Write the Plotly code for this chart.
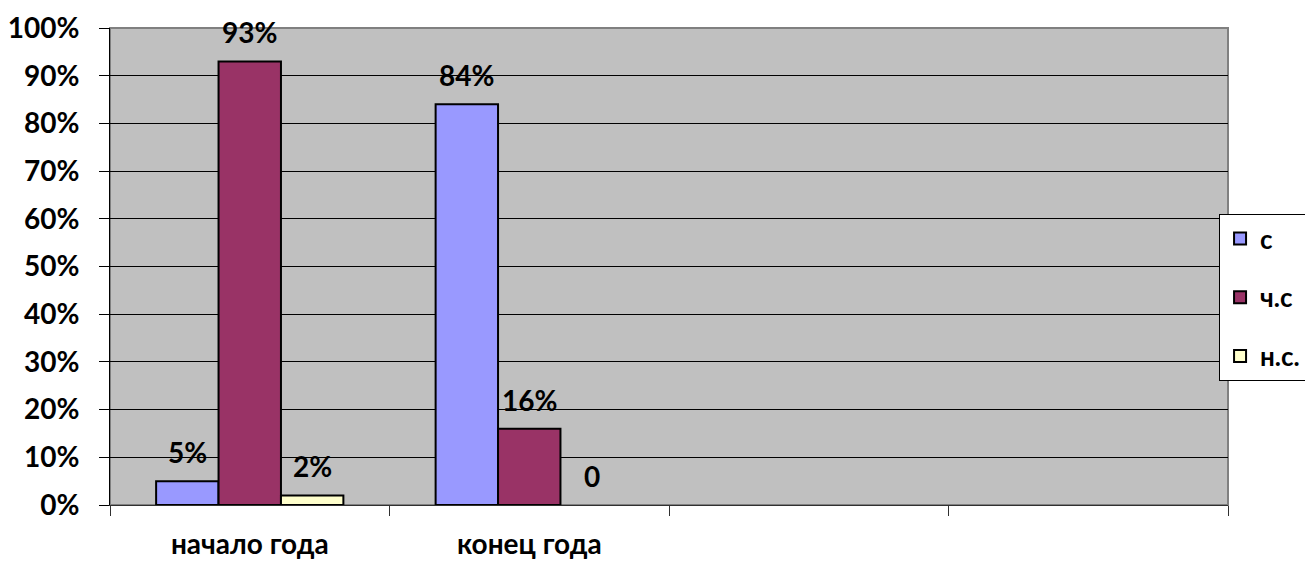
import plotly.graph_objects as go

categories = ["начало года", "конец года", "", ""]
cat_pos = [0, 1, 2, 3]
series_names = ["с", "ч.с", "н.с."]
values_s = [0.05, 0.84, None, None]
values_chs = [0.93, 0.16, None, None]
values_ns = [0.02, 0.0, None, None]
labels_s = ["5%", "84%", "", ""]
labels_chs = ["93%", "16%", "", ""]
labels_ns = ["2%", "0", "", ""]
colors = ["#9999FF", "#993366", "#FFFFCC"]

FONT = "Lato"
BW = 0.67 / 3

fig = go.Figure()
all_vals = [values_s, values_chs, values_ns]
all_labels = [labels_s, labels_chs, labels_ns]
for k, (name, vals, col) in enumerate(zip(series_names, all_vals, colors)):
    widths = [0 if (v is None or v == 0) else 2 for v in vals]
    fig.add_trace(go.Bar(
        x=cat_pos, y=vals, name=name, marker_color=col,
        marker_line=dict(color="black", width=widths),
        legendgroup=name,
    ))
    off = (k - 1) * BW
    for xi, v, t in zip(cat_pos, vals, all_labels[k]):
        if v is None or t == "":
            continue
        fig.add_annotation(x=xi + off, y=v, text=t, showarrow=False,
                           yanchor="middle", yshift=29,
                           font=dict(family=FONT, size=28, color="black", weight="bold"))

fig.update_layout(
    width=1305, height=553,
    margin=dict(l=102, r=85, t=20, b=56, autoexpand=False),
    paper_bgcolor="white", plot_bgcolor="#C0C0C0",
    barmode="group", bargap=0.33, bargroupgap=0,
    font=dict(family=FONT, size=28, color="black", weight="bold"),
    showlegend=True,
    legend=dict(x=0.992, xanchor="left", y=0.61, yanchor="top",
                bgcolor="white", bordercolor="black", borderwidth=1,
                font=dict(family=FONT, size=26, weight="bold"),
                tracegroupgap=22, itemclick=False),
    shapes=[dict(type="rect", xref="paper", yref="paper", x0=0, x1=1, y0=0, y1=1,
                 line=dict(color="#808080", width=2), layer="below")],
)
fig.update_xaxes(
    range=[-0.5, 3.5], tickvals=cat_pos, ticktext=categories,
    ticks="", showgrid=False, zeroline=False,
    showline=True, linecolor="#303030", linewidth=1,
    ticklabelstandoff=14,
    minor=dict(tickvals=[-0.5, 0.5, 1.5, 2.5, 3.5], ticks="outside", ticklen=10,
               tickcolor="#303030", showgrid=False),
)
fig.update_yaxes(
    range=[0, 1], dtick=0.1, tickformat=".0%",
    showgrid=True, gridcolor="black", gridwidth=1,
    zeroline=False, showline=True, linecolor="black", linewidth=1,
    ticks="outside", ticklen=10, tickcolor="black",
    ticklabelstandoff=14,
)
fig.write_html("out.html")
